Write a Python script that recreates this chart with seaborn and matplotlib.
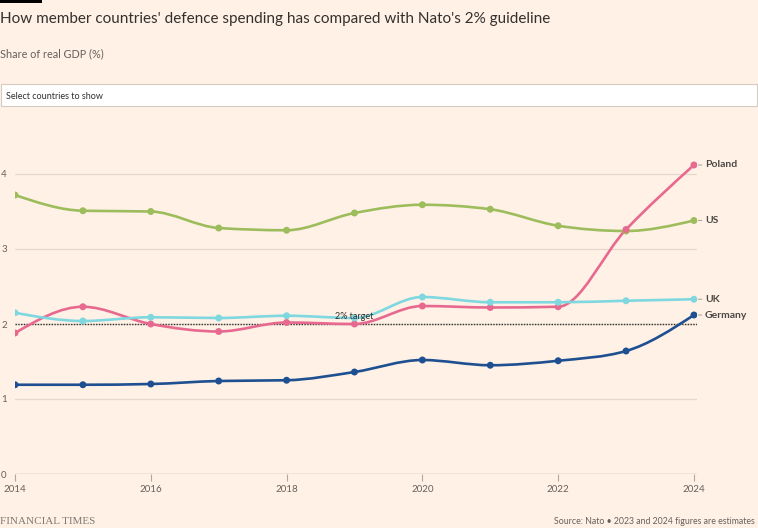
import numpy as np
import pandas as pd
import matplotlib
matplotlib.use("Agg")
import matplotlib.pyplot as plt
from matplotlib.path import Path
from matplotlib.patches import PathPatch, Rectangle
import seaborn as sns

years = [2014, 2015, 2016, 2017, 2018, 2019, 2020, 2021, 2022, 2023, 2024]
us = [3.72, 3.51, 3.50, 3.28, 3.25, 3.48, 3.59, 3.53, 3.31, 3.24, 3.38]
poland = [1.88, 2.23, 2.00, 1.90, 2.02, 2.00, 2.24, 2.22, 2.23, 3.26, 4.12]
uk = [2.15, 2.04, 2.09, 2.08, 2.11, 2.08, 2.36, 2.29, 2.29, 2.31, 2.33]
germany = [1.19, 1.19, 1.20, 1.24, 1.25, 1.36, 1.52, 1.45, 1.51, 1.64, 2.12]
countries = ["US", "Poland", "UK", "Germany"]
series = [us, poland, uk, germany]
colors = ["#9dbd5c", "#e8698f", "#7fd7e0", "#1d4f91"]
yticks = [0, 1, 2, 3, 4]
xticks = [2014, 2016, 2018, 2020, 2022, 2024]
target = 2

BG = "#fff1e5"
sns.set_theme(style="white")
plt.rcParams["font.family"] = ["Lato", "DejaVu Sans"]

fig = plt.figure(figsize=(7.58, 5.28), dpi=100, facecolor=BG)
ax = fig.add_axes([15 / 758, 54 / 528, (697 - 15) / 758, 322.5 / 528])
ax.set_facecolor(BG)

def monotone_path(x, y):
    x = np.asarray(x, float); y = np.asarray(y, float)
    n = len(x)
    h = np.diff(x); s = np.diff(y) / h
    m = np.zeros(n)
    for i in range(1, n - 1):
        if s[i - 1] * s[i] <= 0:
            m[i] = 0
        else:
            p = (s[i - 1] * h[i] + s[i] * h[i - 1]) / (h[i - 1] + h[i])
            m[i] = (np.sign(s[i - 1]) + np.sign(s[i])) * min(abs(s[i - 1]), abs(s[i]), 0.5 * abs(p))
    m[0] = (3 * s[0] - m[1]) / 2
    m[-1] = (3 * s[-1] - m[-2]) / 2
    verts = [(x[0], y[0])]
    codes = [Path.MOVETO]
    for i in range(n - 1):
        d = h[i] / 3
        verts += [(x[i] + d, y[i] + m[i] * d), (x[i + 1] - d, y[i + 1] - m[i + 1] * d), (x[i + 1], y[i + 1])]
        codes += [Path.CURVE4] * 3
    return Path(verts, codes)

# gridlines
for t in yticks[1:]:
    ax.axhline(t, color="#e4d8cc", lw=0.9, zorder=0)
ax.axhline(target, color="#33302e", lw=1.0, ls=(0, (1, 1)), zorder=1)
ax.text(2019, target + 0.04, "2% target", ha="center", va="bottom", fontsize=6.5, color="#33302e", zorder=6)
ax.axhline(0, color="#b3a89e", lw=1.0, zorder=1)

rows = []
for name, vals in zip(countries, series):
    for yr, v in zip(years, vals):
        rows.append({"year": yr, "value": v, "country": name})
df = pd.DataFrame(rows)

for name, vals, c in zip(countries, series, colors):
    ax.add_patch(PathPatch(monotone_path(years, vals), fill=False, edgecolor=c, lw=1.9, zorder=3,
                           capstyle="round", joinstyle="round"))

sns.scatterplot(data=df, x="year", y="value", hue="country", palette=dict(zip(countries, colors)),
                s=25, edgecolor="none", legend=False, zorder=4, ax=ax)

for name, vals, c in zip(countries, series, colors):
    ax.annotate(name, xy=(years[-1], vals[-1]), xytext=(8, 0), textcoords="offset points",
                ha="left", va="center", fontsize=7.5, fontweight="bold", color="#4d4845",
                arrowprops=dict(arrowstyle="-", color="#b3a89e", lw=0.8, shrinkA=0, shrinkB=3),
                annotation_clip=False)

ax.set_xlim(2014, 2024.045)
ax.set_ylim(0, 4.3)
ax.set_xticks(xticks)
ax.set_xticklabels([str(t) for t in xticks])
ax.set_yticks(yticks)
ax.set_yticklabels([str(t) for t in yticks])
ax.tick_params(axis="x", length=5, width=0.8, color="#b3a89e", pad=3, labelsize=7, labelcolor="#66605c", bottom=True)
ax.tick_params(axis="y", length=0, pad=10, labelsize=7, labelcolor="#66605c")
for lbl in ax.get_yticklabels():
    lbl.set_horizontalalignment("left")
for sp in ax.spines.values():
    sp.set_visible(False)
ax.set_xlabel("")
ax.set_ylabel("")

# header
fig.patches.append(Rectangle((0, 1 - 3 / 528), 42 / 758, 3 / 528, transform=fig.transFigure,
                             facecolor="#000000", edgecolor="none"))
fig.text(0, 1 - 19 / 528, "How member countries' defence spending has compared with Nato's 2% guideline",
         ha="left", va="center", fontsize=11, color="#33302e")
fig.text(0, 1 - 54 / 528, "Share of real GDP (%)", ha="left", va="center", fontsize=7.8, color="#66605c")
fig.patches.append(Rectangle((0.5 / 758, 1 - 106 / 528), 756 / 758, 22 / 528, transform=fig.transFigure,
                             facecolor="white", edgecolor="#d4cbc2", lw=0.8))
fig.text(6 / 758, 1 - 96 / 528, "Select countries to show", ha="left", va="center", fontsize=6.5, color="#33302e")

# footer
fig.text(0, 1 - 521 / 528, "FINANCIAL TIMES", ha="left", va="center", fontsize=8,
         family=["Liberation Serif", "DejaVu Serif"], color="#807973")
fig.text(755 / 758, 1 - 521 / 528, "Source: Nato \u2022 2023 and 2024 figures are estimates", ha="right",
         va="center", fontsize=6.3, color="#66605c")

fig.savefig("out.png", dpi=100, facecolor=BG)
